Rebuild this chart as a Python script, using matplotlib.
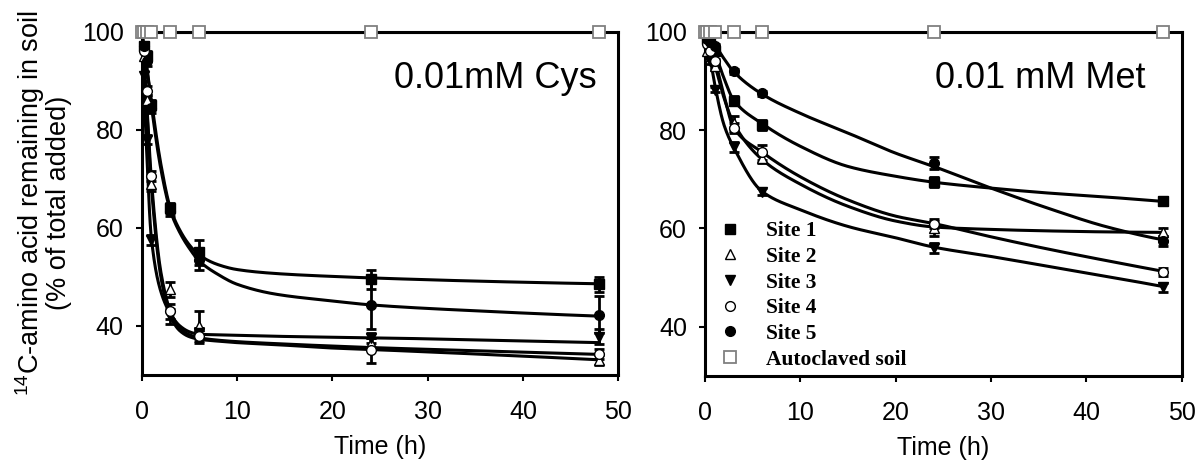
import numpy as np
import matplotlib
matplotlib.use("Agg")
import matplotlib.pyplot as plt
from matplotlib.lines import Line2D

plt.rcParams['font.family'] = ['Liberation Sans', 'DejaVu Sans']
plt.rcParams['mathtext.fontset'] = 'custom'
plt.rcParams['mathtext.rm'] = 'Liberation Sans'
plt.rcParams['mathtext.it'] = 'Liberation Sans:italic'

# ---------------- data ----------------
times = [0, 0.25, 0.5, 1, 3, 6, 24, 48]
series_labels = ['Site 1', 'Site 2', 'Site 3', 'Site 4', 'Site 5', 'Autoclaved soil']

# 0.01 mM Cys : measured points and error bars
cys_site1 = [100, 97, 95, 85, 64, 55, 49.5, 48.5]
cys_site2 = [100, 95, 86, 69, 47.5, 40, 36.5, 33.0]
cys_site3 = [100, 91, 78, 57.5, 42, 38.5, 37.5, 37.8]
cys_site4 = [100, 96, 88, 70.5, 43, 38, 35, 34.3]
cys_site5 = [100, 97, 94, 84.5, 63.5, 53.5, 44.2, 42.3]
cys_auto = [100, 100, 100, 100, 100, 100, 100, 100]
cys_err1 = [0, 1, 1, 1, 1, 2.5, 2, 1.5]
cys_err2 = [0, 1, 1, 1.5, 1.5, 3, 1, 1]
cys_err3 = [0, 1, 1, 1, 1.5, 1, 1, 1.5]
cys_err4 = [0, 1, 1, 1, 1.5, 1.5, 2.6, 1]
cys_err5 = [0, 1, 1, 1, 1, 2, 4.8, 3.8]

# 0.01 mM Met : measured points and error bars
met_site1 = [100, 98.5, 97.5, 96, 86, 81, 69.4, 65.5]
met_site2 = [100, 96, 95, 93, 81.4, 74.3, 60, 59.2]
met_site3 = [100, 97, 94, 88.2, 76.5, 67.5, 56, 48]
met_site4 = [100, 97.5, 96, 94, 80.5, 75.5, 61, 51.2]
met_site5 = [100, 98.5, 98, 97, 92, 87.5, 73.3, 57.5]
met_auto = [100, 100, 100, 100, 100, 100, 100, 100]
met_err1 = [0, .5, .5, .5, 1, 1, 1, 0.8]
met_err2 = [0, .5, .5, .5, 1.5, 1, 1.5, 0.8]
met_err3 = [0, .5, .5, .5, 1, 0.8, 1, 1]
met_err4 = [0, .5, .5, .5, 1, 1.5, 1, 0.8]
met_err5 = [0, .5, .5, .5, .5, .5, 1.3, 1]

# fitted curves at knot times
cys_fit_t = [0, 0.5, 1, 2, 3, 4, 5, 6, 8, 10, 14, 20, 24, 36, 48]
cys_fit1 = [100, 93, 86, 73, 64, 59.5, 56.5, 54.5, 52.5, 51.5, 50.7, 50.1, 49.8, 49.1, 48.6]
cys_fit2 = [100, 85, 68.5, 50, 42, 39, 37.8, 37.3, 36.9, 36.6, 36.2, 35.5, 35.2, 34.2, 33.1]
cys_fit3 = [100, 76, 58, 47, 42.5, 40, 38.8, 38.3, 38.2, 38.1, 37.9, 37.7, 37.6, 37.1, 36.6]
cys_fit4 = [100, 86, 70, 51, 43, 39.5, 38.2, 37.6, 37.1, 36.8, 36.4, 35.9, 35.6, 34.9, 34.2]
cys_fit5 = [100, 93, 85, 72, 63.5, 59, 55.8, 53.3, 50.5, 48.5, 46.5, 45.1, 44.3, 43.0, 42.0]

met_fit_t = [0, 0.5, 1, 2, 3, 6, 10, 15, 20, 24, 30, 36, 42, 48]
met_fit1 = [100, 98.5, 96, 90.5, 86.1, 81.3, 76.7, 72.6, 70.6, 69.4, 68.2, 67.2, 66.4, 65.5]
met_fit2 = [100, 97, 93.5, 86.5, 81.4, 74, 69, 64.5, 61.5, 60.3, 59.8, 59.5, 59.3, 59.2]
met_fit3 = [100, 95, 89.5, 81, 76.5, 67.5, 63.8, 60.4, 58.1, 56.2, 54.3, 52.3, 50.3, 48.2]
met_fit4 = [100, 97.5, 94.5, 87, 80.5, 75.5, 70.5, 65.8, 62.5, 61, 58.3, 55.8, 53.5, 51.3]
met_fit5 = [100, 99, 97.5, 94.5, 91.9, 87.3, 83.4, 79.4, 75.3, 72.6, 68.2, 64.1, 60.4, 57.7]

panel_titles = ['0.01mM Cys', '0.01 mM Met']
x_ticks = [0, 10, 20, 30, 40, 50]
y_ticks = [40, 60, 80, 100]


def pchip(x, y, xn):
    x = np.asarray(x, float); y = np.asarray(y, float)
    h = np.diff(x); d = np.diff(y) / h
    n = len(x)
    m = np.zeros(n)
    for k in range(1, n - 1):
        if d[k - 1] * d[k] > 0:
            w1 = 2 * h[k] + h[k - 1]; w2 = h[k] + 2 * h[k - 1]
            m[k] = (w1 + w2) / (w1 / d[k - 1] + w2 / d[k])

    def ends(h0, h1, d0, d1):
        s = ((2 * h0 + h1) * d0 - h0 * d1) / (h0 + h1)
        if np.sign(s) != np.sign(d0):
            s = 0.0
        elif np.sign(d0) != np.sign(d1) and abs(s) > abs(3 * d0):
            s = 3 * d0
        return s
    m[0] = ends(h[0], h[1], d[0], d[1])
    m[-1] = ends(h[-1], h[-2], d[-1], d[-2])
    idx = np.clip(np.searchsorted(x, xn) - 1, 0, n - 2)
    t = (xn - x[idx]) / h[idx]
    hh = h[idx]
    h00 = 2 * t**3 - 3 * t**2 + 1
    h10 = t**3 - 2 * t**2 + t
    h01 = -2 * t**3 + 3 * t**2
    h11 = t**3 - t**2
    return h00 * y[idx] + h10 * hh * m[idx] + h01 * y[idx + 1] + h11 * hh * m[idx + 1]


styles = [
    dict(marker='s', mfc='black', mec='black', ms=6.5, mew=1),
    dict(marker='^', mfc='white', mec='black', ms=7, mew=1),
    dict(marker='v', mfc='black', mec='black', ms=7, mew=1),
    dict(marker='o', mfc='white', mec='black', ms=7, mew=1),
    dict(marker='o', mfc='black', mec='black', ms=7, mew=1),
    dict(marker='s', mfc='white', mec='#808080', ms=8, mew=1.3),
]

W, H = 1196, 466
fig = plt.figure(figsize=(W / 100, H / 100), dpi=100)
ax1 = fig.add_axes([141.8 / W, 1 - 375 / H, 476.5 / W, 343.3 / H])
ax2 = fig.add_axes([705 / W, 1 - 376 / H, 476.7 / W, 344.3 / H])

panels = [
    (ax1, [cys_site1, cys_site2, cys_site3, cys_site4, cys_site5, cys_auto],
     [cys_err1, cys_err2, cys_err3, cys_err4, cys_err5],
     cys_fit_t, [cys_fit1, cys_fit2, cys_fit3, cys_fit4, cys_fit5], panel_titles[0], 0.742),
    (ax2, [met_site1, met_site2, met_site3, met_site4, met_site5, met_auto],
     [met_err1, met_err2, met_err3, met_err4, met_err5],
     met_fit_t, [met_fit1, met_fit2, met_fit3, met_fit4, met_fit5], panel_titles[1], 0.703),
]

tfine = np.linspace(0, 48, 600)
for ax, vals, errs, ft, fits, title, tx in panels:
    # fitted curves
    for f in fits:
        ax.plot(tfine, pchip(ft, f, tfine), color='black', lw=2.2, zorder=2,
                solid_capstyle='round')
    # autoclaved line
    ax.plot([0, 48], [vals[5][0], vals[5][-1]], color='black', lw=2.2, zorder=2)
    # error bars and markers
    for i in range(5):
        ax.errorbar(times, vals[i], yerr=errs[i], fmt='none', ecolor='black',
                    elinewidth=2, capsize=3.5, capthick=2, zorder=3)
        ax.plot(times, vals[i], ls='none', zorder=4, clip_on=False, **styles[i])
    ax.plot(times, vals[5], ls='none', zorder=5, clip_on=False, **styles[5])

    ax.set_xlim(0, 50)
    ax.set_ylim(30, 100)
    ax.set_xticks(x_ticks)
    ax.set_yticks(y_ticks)
    for s in ax.spines.values():
        s.set_linewidth(2.2)
    ax.tick_params(direction='out', length=4, width=1.5, labelsize=18)
    ax.tick_params(axis='x', pad=14)
    ax.tick_params(axis='y', pad=9)
    ax.set_xlabel('Time (h)', fontsize=18, labelpad=8)
    ax.text(tx, 0.865, title, transform=ax.transAxes, ha='center', va='center',
            fontsize=26)

ax1.set_ylabel('$^{14}$C-amino acid remaining in soil\n(% of total added)',
               fontsize=19.5, labelpad=7, linespacing=0.95)

handles = [Line2D([], [], ls='none', **styles[i]) for i in range(6)]
ax2.legend(handles, series_labels, loc='lower left', bbox_to_anchor=(0.02, 0.006),
           frameon=False, handlelength=1.0, handletextpad=1.2, labelspacing=0.26,
           borderpad=0.2, borderaxespad=0.0,
           prop={'family': 'Liberation Serif', 'weight': 'bold', 'size': 15.5})

fig.savefig('out.png', dpi=100)
